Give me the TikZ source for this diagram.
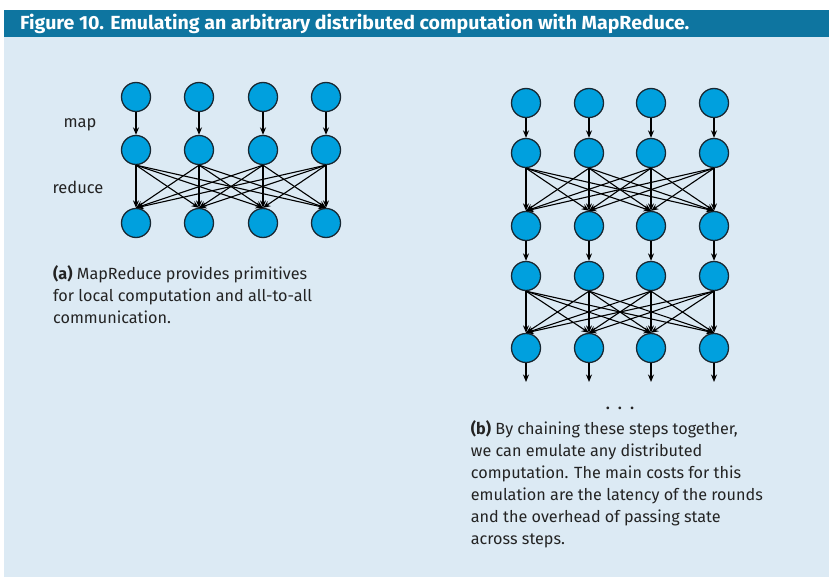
\documentclass[tikz,border=0pt]{standalone}
\usepackage{fontspec}
\setmainfont{Fira Sans}
\newfontfamily\headfont[FakeStretch=1.03]{Fira Sans}
\usetikzlibrary{arrows.meta}
\definecolor{headblue}{RGB}{14,117,160}
\definecolor{panelblue}{RGB}{220,234,244}
\definecolor{procblue}{RGB}{0,160,222}
\definecolor{procline}{RGB}{25,40,50}
\definecolor{captext}{RGB}{35,35,35}
\tikzset{
  proc/.style={circle, draw=procline, fill=procblue, line width=1.3pt, minimum size=29pt, inner sep=0pt},
  flow/.style={-{Stealth[length=7.5pt,width=6pt]}, line width=1.1pt, black},
  caption/.style={anchor=north west, align=left, text=captext, inner sep=0pt, font=\fontsize{16.2}{22}\selectfont},
  steplabel/.style={text=captext, inner sep=0pt, font=\fontsize{16.5}{18}\selectfont},
}

\begin{document}
\begin{tikzpicture}[x=1pt,y=-1pt]
\useasboundingbox (0,0) rectangle (829,580);
\fill[panelblue] (4,37) rectangle (829,577);
\fill[headblue] (4,10) rectangle (829,37);
\node[anchor=base west, text=white, inner sep=0pt, font=\headfont\bfseries\fontsize{19}{20}\selectfont] (title) at (20,30) {Figure 10. Emulating an arbitrary distributed computation with MapReduce.};

% (a) one map step and one reduce step
\foreach \c/\x in {1/136,2/199,3/263,4/326} {
  \node[proc] (a1\c) at (\x,97) {};
  \node[proc] (a2\c) at (\x,150) {};
  \node[proc] (a3\c) at (\x,223) {};
  \draw[flow] (a1\c.south) -- (a2\c.north);
}
\foreach \s in {1,...,4} \foreach \t in {1,...,4}
  \draw[flow] (a2\s.south) -- (a3\t.north);
\node[steplabel] (maplabel) at (80,125) {map};
\node[steplabel] (reducelabel) at (78,187) {reduce};
\node[caption] (capa) at (53,265.5) {\textbf{(a)} MapReduce provides primitives\\for local computation and all-to-all\\communication.};

% (b) steps chained together
\foreach \c/\x in {1/526,2/589,3/651,4/714} {
  \node[proc] (b1\c) at (\x,103) {};
  \node[proc] (b2\c) at (\x,153) {};
  \node[proc] (b3\c) at (\x,226) {};
  \node[proc] (b4\c) at (\x,276) {};
  \node[proc] (b5\c) at (\x,348) {};
  \coordinate (bend\c) at (\x,382);
  \draw[flow] (b1\c.south) -- (b2\c.north);
  \draw[flow] (b3\c.south) -- (b4\c.north);
  \draw[flow] (b5\c.south) -- (bend\c);
}
\foreach \s in {1,...,4} \foreach \t in {1,...,4} {
  \draw[flow] (b2\s.south) -- (b3\t.north);
  \draw[flow] (b4\s.south) -- (b5\t.north);
}
\node[anchor=base, text=captext, inner sep=0pt, font=\fontsize{15}{18}\bfseries\selectfont] (more) at (620,409) {.\hspace{8.5pt}.\hspace{8.5pt}.};
\node[caption] (capb) at (470.7,420) {\textbf{(b)} By chaining these steps together,\\we can emulate any distributed\\computation. The main costs for this\\emulation are the latency of the rounds\\and the overhead of passing state\\across steps.};
\end{tikzpicture}
\end{document}
